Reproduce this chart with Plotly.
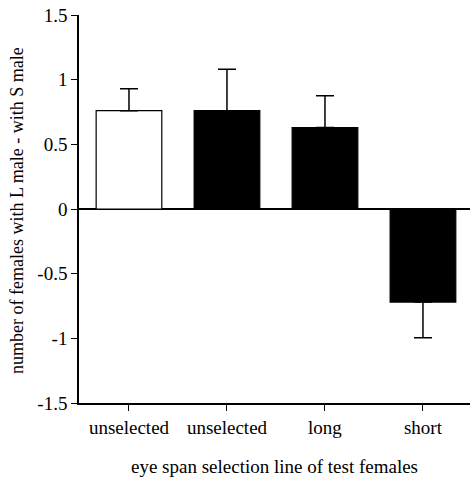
import plotly.graph_objects as go

categories = ["unselected", "unselected", "long", "short"]
values = [0.76, 0.76, 0.63, -0.72]
err_plus = [0.17, 0.32, 0.245, 0.0]
err_minus = [0.0, 0.0, 0.0, 0.275]
fill_colors = ["white", "black", "black", "black"]
y_ticks = [-1.5, -1, -0.5, 0, 0.5, 1, 1.5]
y_tick_labels = ["-1.5", "-1", "-0.5", "0", "0.5", "1", "1.5"]

x_pos = list(range(len(categories)))
font = "Times New Roman"

fig = go.Figure()
fig.add_trace(go.Bar(
    x=x_pos, y=values, width=0.67,
    marker=dict(color=fill_colors, line=dict(color="black", width=1.2)),
    error_y=dict(type="data", symmetric=False, array=err_plus, arrayminus=err_minus,
                 color="black", thickness=1.5, width=9),
    showlegend=False, hoverinfo="skip",
))

fig.update_layout(
    width=470, height=480,
    margin=dict(l=79, r=0, t=15, b=77),
    plot_bgcolor="white", paper_bgcolor="white",
    font=dict(family=font, size=19, color="black"),
    xaxis=dict(range=[-0.51, 3.48], tickmode="array", tickvals=x_pos, ticktext=categories,
               showline=True, linecolor="black", linewidth=1.5, ticks="outside",
               ticklen=6, tickwidth=1.2, tickcolor="black", showgrid=False, zeroline=False,
               tickangle=0, automargin=False,
               tickfont=dict(family=font, size=19), ticklabeloverflow="allow"),
    yaxis=dict(range=[-1.5, 1.5], tickmode="array", tickvals=y_ticks, ticktext=y_tick_labels,
               showline=True, linecolor="black", linewidth=1.5, ticks="outside",
               ticklen=6, tickwidth=1.2, tickcolor="black", showgrid=False,
               zeroline=True, zerolinecolor="black", zerolinewidth=1.5, automargin=False,
               tickfont=dict(family=font, size=19), ticklabeloverflow="allow"),
    annotations=[
        dict(text="eye span selection line of test females", xref="paper", yref="paper",
             x=0.5, y=0, yshift=-63, xanchor="center", yanchor="middle", showarrow=False,
             font=dict(family=font, size=19)),
        dict(text="number of females with L male - with S male", xref="paper", yref="paper",
             x=0, xshift=-62, y=0.5, yshift=-2, textangle=-90, xanchor="center",
             yanchor="middle", showarrow=False, font=dict(family=font, size=18)),
    ],
)

fig.write_html("out.html", config={"displayModeBar": False},
               post_script="document.body.style.margin='0';document.documentElement.style.overflow='hidden';")
